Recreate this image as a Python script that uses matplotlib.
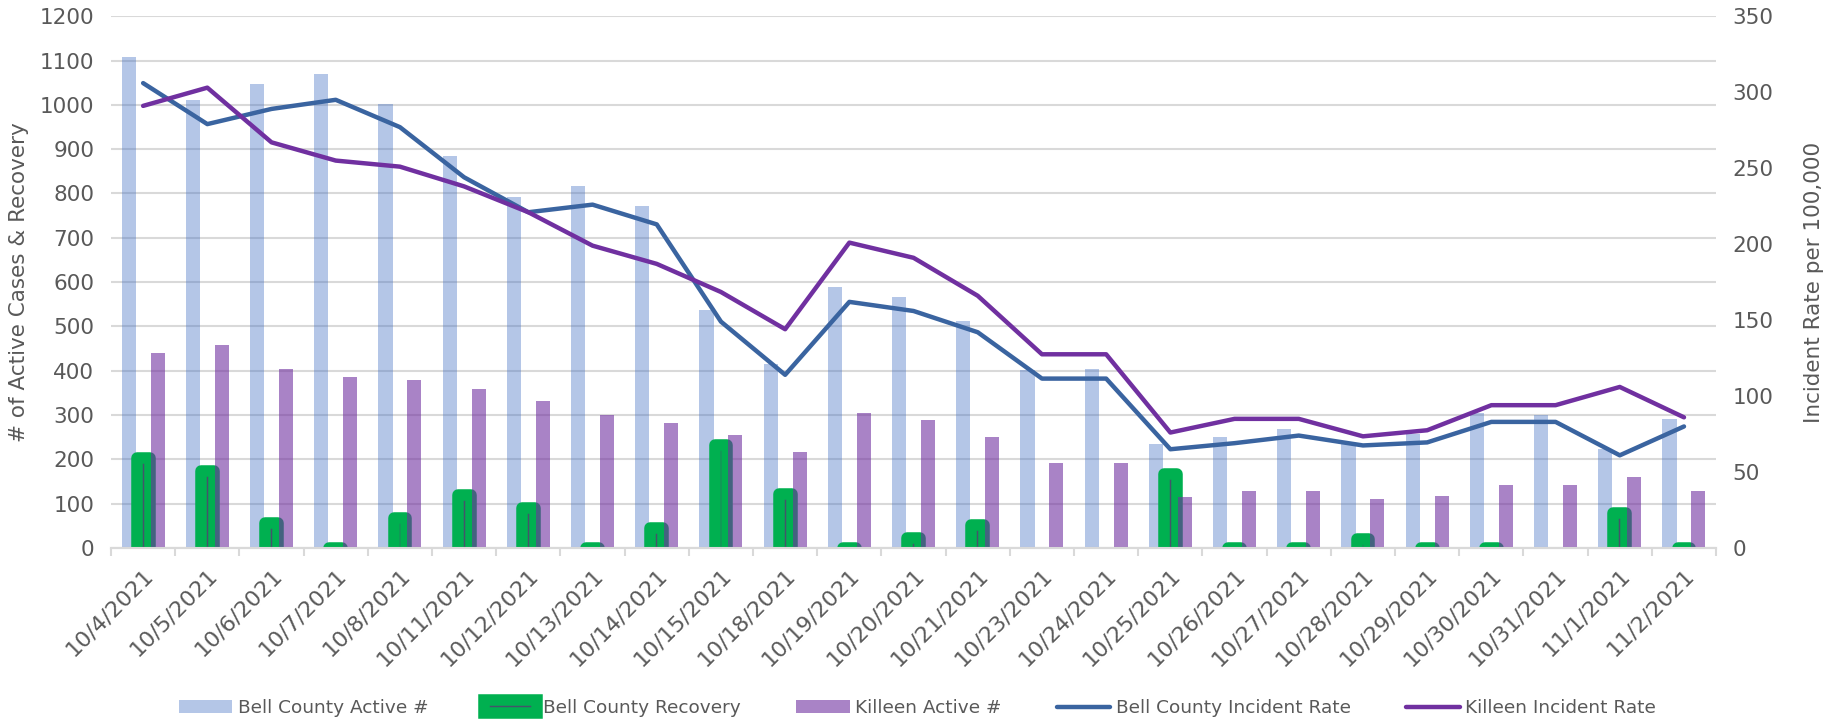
import matplotlib.pyplot as plt
import numpy as np

dates = ["10/4/2021", "10/5/2021", "10/6/2021", "10/7/2021", "10/8/2021",
         "10/11/2021", "10/12/2021", "10/13/2021", "10/14/2021", "10/15/2021",
         "10/18/2021", "10/19/2021", "10/20/2021", "10/21/2021", "10/23/2021",
         "10/24/2021", "10/25/2021", "10/26/2021", "10/27/2021", "10/28/2021",
         "10/29/2021", "10/30/2021", "10/31/2021", "11/1/2021", "11/2/2021"]

bell_active = [1109, 1012, 1047, 1070, 1002, 884, 791, 817, 771, 538,
               415, 588, 566, 513, 402, 405, 234, 250, 268, 238,
               258, 304, 300, 224, 290]
bell_recovery = [204, 174, 56, 0, 67, 119, 91, 0, 45, 233,
                 122, 0, 23, 52, np.nan, np.nan, 167, 0, 0, 21,
                 0, 0, np.nan, 79, 0]
killeen_active = [441, 458, 405, 386, 379, 359, 331, 300, 282, 255,
                  217, 304, 289, 251, 192, 192, 115, 129, 129, 111,
                  117, 142, 142, 161, 129]
bell_rate = [306, 279, 289, 295, 277, 244, 221, 226, 213, 149,
             114, 162, 156, 142, 111.5, 111.5, 65, 69, 74, 67.5,
             69.5, 83, 83, 61, 80]
killeen_rate = [291, 303, 267, 255, 251, 238, 221, 199, 187, 168.5,
                144, 201, 191, 166, 127.5, 127.5, 76, 85, 85, 73.5,
                77.5, 94, 94, 106, 86]

grey = "#595959"
plt.rcParams['font.family'] = ['DejaVu Sans']

fig = plt.figure(figsize=(18.35, 7.22), dpi=100)
ax = fig.add_axes([0.0605, 0.2410, 0.8747, 0.7365])
ax2 = ax.twinx()

x = np.arange(len(dates))
w = 0.22
# start the recovery bars below the axis (clipped) so zero values still show the thick rounded edge
rec = np.array(bell_recovery, dtype=float)
below = 30

b1 = ax.bar(x - 0.225, bell_active, w, color="#4472C4", alpha=0.4, zorder=2)
b2 = ax.bar(x, rec + below, 0.2, bottom=-below, color="#44546A", edgecolor="#00B050",
            linewidth=8.3, joinstyle="round", zorder=3)
b3 = ax.bar(x + 0.225, killeen_active, w, color="#7030A0", alpha=0.6, zorder=4)

l1, = ax2.plot(x, bell_rate, color="#3A64A0", lw=3.2,
               solid_capstyle="round", solid_joinstyle="round")
l2, = ax2.plot(x, killeen_rate, color="#7030A0", lw=3.2,
               solid_capstyle="round", solid_joinstyle="round")

ax.set_xlim(-0.5, len(dates) - 0.5)
ax.set_ylim(0, 1200)
ax.set_yticks(range(0, 1201, 100))
ax2.set_ylim(0, 350)
ax2.set_yticks(range(0, 351, 50))

ax.grid(axis="y", color="#D9D9D9", lw=1.5, zorder=0)
ax.set_axisbelow(True)

for a in (ax, ax2):
    for s in ["top", "left", "right"]:
        a.spines[s].set_visible(False)
    a.spines["bottom"].set_color("#D9D9D9")
    a.spines["bottom"].set_linewidth(1.5)
    a.tick_params(axis="y", length=0, labelsize=15.5, labelcolor=grey)

ax.set_xticks(x)
ax.set_xticklabels(dates, rotation=45, ha="right", rotation_mode="anchor",
                   fontsize=16, color=grey)
ax.tick_params(axis="x", which="major", length=0, pad=12)
ax.set_xticks(np.arange(-0.5, len(dates), 1), minor=True)
ax.tick_params(axis="x", which="minor", length=6, color="#D9D9D9", width=1.5)

ax.set_ylabel("# of Active Cases & Recovery", fontsize=15.5, color=grey, labelpad=8)
ax2.set_ylabel("Incident Rate per 100,000", fontsize=15.5, color=grey, labelpad=22)
ax.tick_params(axis="y", pad=12)
ax2.tick_params(axis="y", pad=12)

ax.set_zorder(ax2.get_zorder() - 1)
ax2.patch.set_visible(False)

fig.legend([b1, b2, b3, l1, l2],
           ["Bell County Active #", "Bell County Recovery", "Killeen Active #",
            "Bell County Incident Rate", "Killeen Incident Rate"],
           loc="center", bbox_to_anchor=(0.5, 1 - 708 / 722), ncol=5, frameon=False,
           fontsize=13.3, labelcolor=grey, handlelength=2.9, handletextpad=0.3,
           columnspacing=3.0)

fig.savefig("out.png", dpi=100)
